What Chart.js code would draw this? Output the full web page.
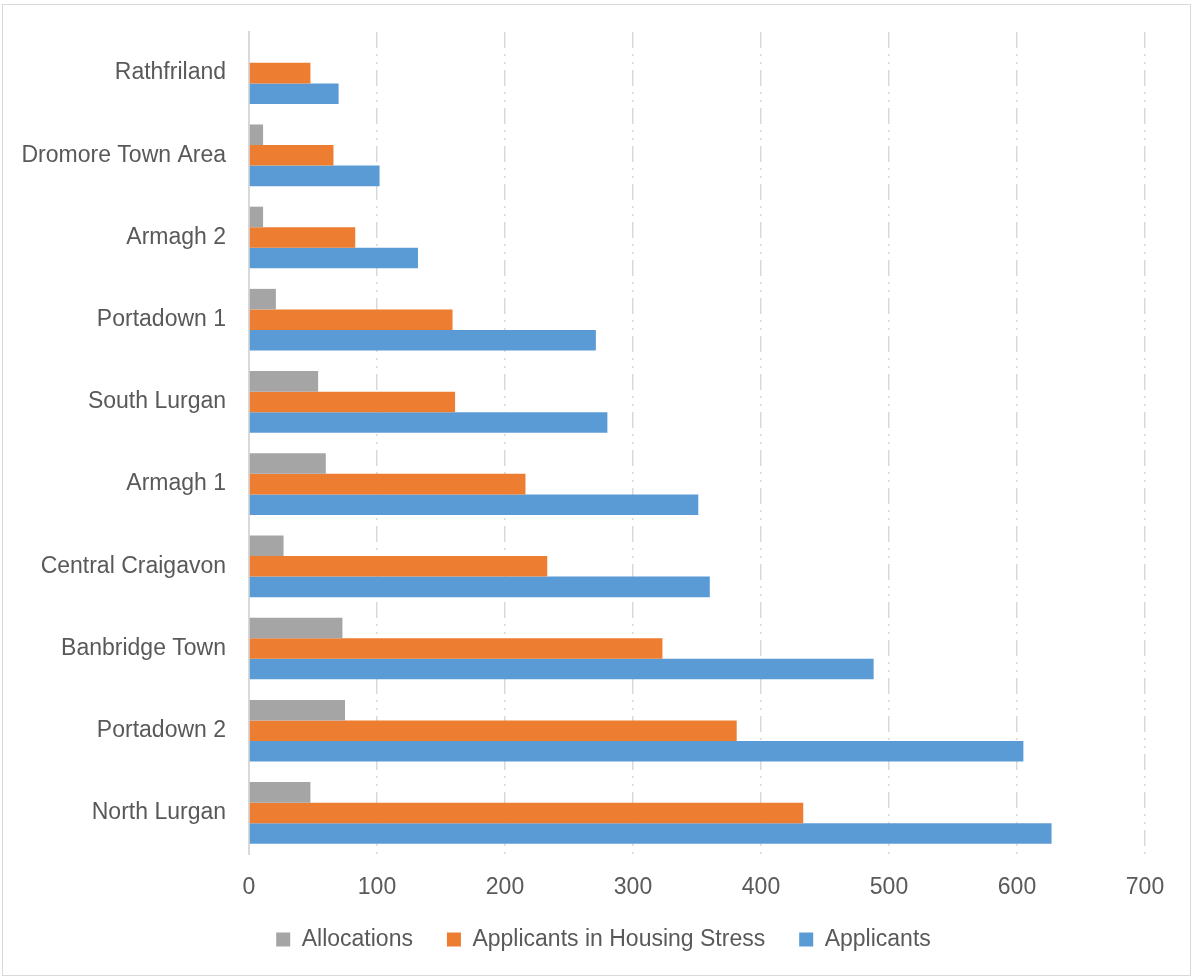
<!DOCTYPE html>
<html lang="en">
<head>
  <meta charset="UTF-8">
  <title>Housing Applicants by Area</title>
  <script src="https://cdn.jsdelivr.net/npm/chart.js"></script>
  <style>
    html, body { margin: 0; padding: 0; background: #fff; }
    .wrap { position: relative; width: 1193px; height: 976px; }
  </style>
</head>
<body>
<div class="wrap"><canvas id="chart"></canvas></div>
<script>
const areas = ["Rathfriland", "Dromore Town Area", "Armagh 2", "Portadown 1", "South Lurgan",
  "Armagh 1", "Central Craigavon", "Banbridge Town", "Portadown 2", "North Lurgan"];
const allocations = [0, 11, 11, 21, 54, 60, 27, 73, 75, 48];
const housingStress = [48, 66, 83, 159, 161, 216, 233, 323, 381, 433];
const applicants = [70, 102, 132, 271, 280, 351, 360, 488, 605, 627];
const xMax = 700;
const xStep = 100;

const textColor = '#595959';
const gridColor = '#d9d9d9';
const fontFamily = "'Liberation Sans', Arial, sans-serif";

// light frame round the whole chart
const frame = {
  id: 'frame',
  beforeDraw(chart) {
    const c = chart.ctx;
    c.save();
    c.strokeStyle = '#d9d9d9';
    c.lineWidth = 1;
    c.strokeRect(2.5, 4.5, chart.width - 5, chart.height - 5);
    c.restore();
  }
};

// centre the legend under the whole frame rather than the padded area
const legendShift = {
  id: 'legendShift',
  afterUpdate(chart) {
    const l = chart.legend;
    if (!l) return;
    l.left += 31;
    l.right += 31;
    l.adjustHitBoxes();
  }
};

new Chart(document.getElementById('chart'), {
  type: 'bar',
  data: {
    labels: areas,
    datasets: [
      { label: 'Allocations', data: allocations, backgroundColor: '#a5a5a5' },
      { label: 'Applicants in Housing Stress', data: housingStress, backgroundColor: '#ed7d31' },
      { label: 'Applicants', data: applicants, backgroundColor: '#5b9bd5' }
    ]
  },
  options: {
    indexAxis: 'y',
    responsive: true,
    maintainAspectRatio: false,
    animation: false,
    categoryPercentage: 0.75,
    barPercentage: 1.0,
    layout: { padding: { top: 32, right: 48, bottom: 15, left: 0 } },
    scales: {
      x: {
        min: 0, max: xMax,
        ticks: { stepSize: xStep, color: textColor, padding: 20, font: { family: fontFamily, size: 23 } },
        grid: { color: gridColor, lineWidth: 1.5, drawTicks: false },
        border: { display: false, dash: [16, 6, 2, 6, 2, 6] },
        afterFit(scale) { scale.height = 40; }
      },
      y: {
        ticks: { color: textColor, padding: 23, font: { family: fontFamily, size: 23 } },
        grid: { display: false, drawTicks: false },
        border: { display: true, color: gridColor, width: 2 },
        afterFit(scale) { scale.width = 249; scale.paddingTop = 0; scale.paddingBottom = 0; }
      }
    },
    plugins: {
      legend: {
        position: 'bottom',
        labels: {
          color: textColor,
          boxWidth: 14, boxHeight: 14,
          padding: 34,
          font: { family: fontFamily, size: 23 }
        }
      },
      tooltip: { enabled: false }
    }
  },
  plugins: [frame, legendShift]
});
</script>
</body>
</html>
